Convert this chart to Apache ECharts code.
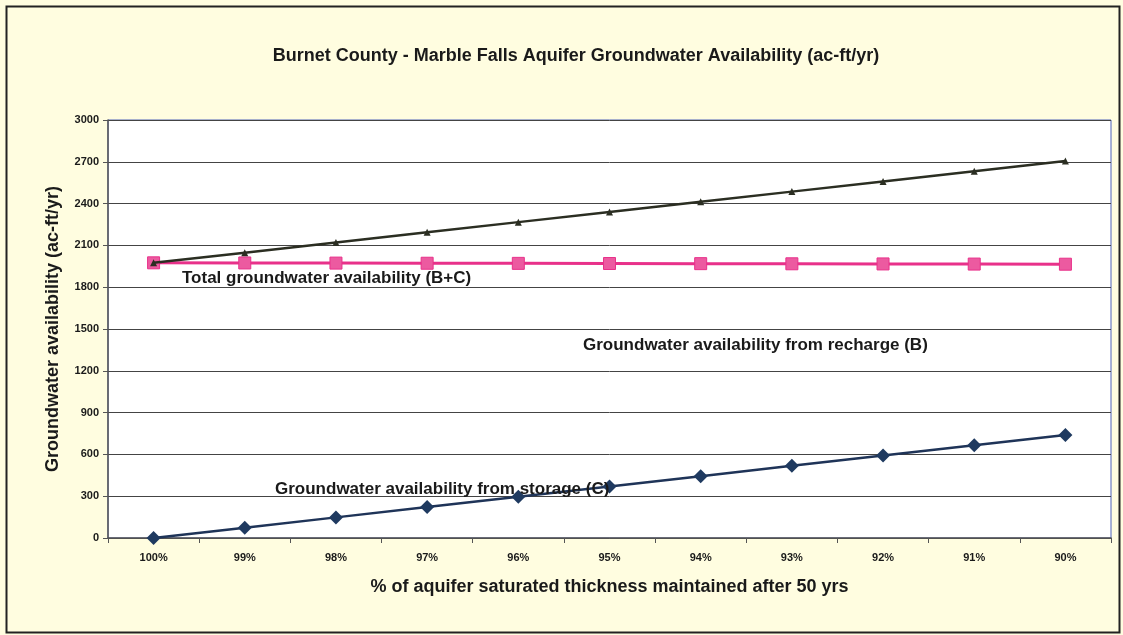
<!DOCTYPE html>
<html lang="en">
<head>
  <meta charset="UTF-8">
  <title>Burnet County - Marble Falls Aquifer Groundwater Availability</title>
  <script src="https://cdn.jsdelivr.net/npm/echarts@6.0.0/dist/echarts.min.js"></script>
  <style>
    html, body { margin: 0; padding: 0; background: #fffde0; }
    #chart { width: 1123px; height: 635px; }
  </style>
</head>
<body>
<div id="chart"></div>
<script>
  // 数据
  var categories = ['100%', '99%', '98%', '97%', '96%', '95%', '94%', '93%', '92%', '91%', '90%'];
  var recharge = [1975, 1974, 1973, 1972, 1971, 1970, 1969, 1968, 1967, 1966, 1965];
  var storage = [0, 74, 148, 222, 296, 370, 444, 518, 592, 666, 740];
  var total = [1975, 2048, 2121, 2194, 2267, 2340, 2413, 2486, 2559, 2632, 2705];

  var font = 'Liberation Sans, Arial, sans-serif';
  var myChart = echarts.init(document.getElementById('chart'));

  var option = {
    backgroundColor: '#fffde0',
    animation: false,
    title: {
      text: 'Burnet County - Marble Falls Aquifer Groundwater Availability (ac-ft/yr)',
      left: 571, top: 42, textAlign: 'center',
      textStyle: { fontFamily: font, fontSize: 18, fontWeight: 'bold', color: '#1a1a1a' }
    },
    grid: { left: 108, right: 12, top: 120, bottom: 97, show: true, backgroundColor: '#fff', borderColor: '#4f63b8', borderWidth: 1 },
    xAxis: {
      type: 'category',
      data: categories,
      boundaryGap: true,
      name: '% of aquifer saturated thickness maintained after 50 yrs',
      nameLocation: 'middle', nameGap: 40,
      nameTextStyle: { fontFamily: font, fontSize: 18, fontWeight: 'bold', color: '#1a1a1a' },
      axisLine: { lineStyle: { color: '#555', width: 1.5 } },
      axisTick: { show: true, length: 5, lineStyle: { color: '#555' } },
      axisLabel: { fontFamily: font, fontSize: 11, fontWeight: 'bold', color: '#1a1a1a', margin: 14 }
    },
    yAxis: {
      type: 'value',
      min: 0, max: 3000, interval: 300,
      name: 'Groundwater availability (ac-ft/yr)',
      nameLocation: 'middle', nameGap: 46,
      nameTextStyle: { fontFamily: font, fontSize: 18, fontWeight: 'bold', color: '#1a1a1a' },
      axisLine: { show: true, lineStyle: { color: '#555', width: 1.5 } },
      axisTick: { show: true, length: 5, lineStyle: { color: '#555' } },
      axisLabel: {
        fontFamily: font, fontSize: 11, fontWeight: 'bold', color: '#1a1a1a', margin: 9,
        formatter: function (v) { return String(v); }
      },
      splitLine: { lineStyle: { color: '#444', width: 1 } }
    },
    series: [
      {
        name: 'Groundwater availability from recharge (B)',
        type: 'line', data: recharge,
        symbol: 'rect', symbolSize: 12,
        lineStyle: { color: '#e8318a', width: 3 },
        itemStyle: { color: '#ec5aa0', borderColor: '#e8318a', borderWidth: 1 },
        z: 3
      },
      {
        name: 'Total groundwater availability (B+C)',
        type: 'line', data: total,
        symbol: 'triangle', symbolSize: 7,
        lineStyle: { color: '#2b2e22', width: 2.5 },
        itemStyle: { color: '#2b2e22' },
        z: 4
      },
      {
        name: 'Groundwater availability from storage (C)',
        type: 'line', data: storage,
        symbol: 'diamond', symbolSize: 14,
        lineStyle: { color: '#1f3458', width: 2.5 },
        itemStyle: { color: '#1f3a60' },
        z: 4
      }
    ],
    graphic: [
      { type: 'rect', left: 4, top: 4, z: 100, silent: true,
        shape: { width: 1113, height: 626 },
        style: { fill: null, stroke: '#222', lineWidth: 2 } },
      { type: 'text', left: 182, top: 270, z: 100,
        style: { text: 'Total groundwater availability (B+C)', font: 'bold 17px ' + font, fill: '#1a1a1a' } },
      { type: 'text', left: 583, top: 337, z: 100,
        style: { text: 'Groundwater availability from recharge (B)', font: 'bold 17px ' + font, fill: '#1a1a1a' } },
      { type: 'text', left: 275, top: 481, z: 100,
        style: { text: 'Groundwater availability from storage (C)', font: 'bold 17px ' + font, fill: '#1a1a1a' } }
    ]
  };

  myChart.setOption(option);
</script>
</body>
</html>
